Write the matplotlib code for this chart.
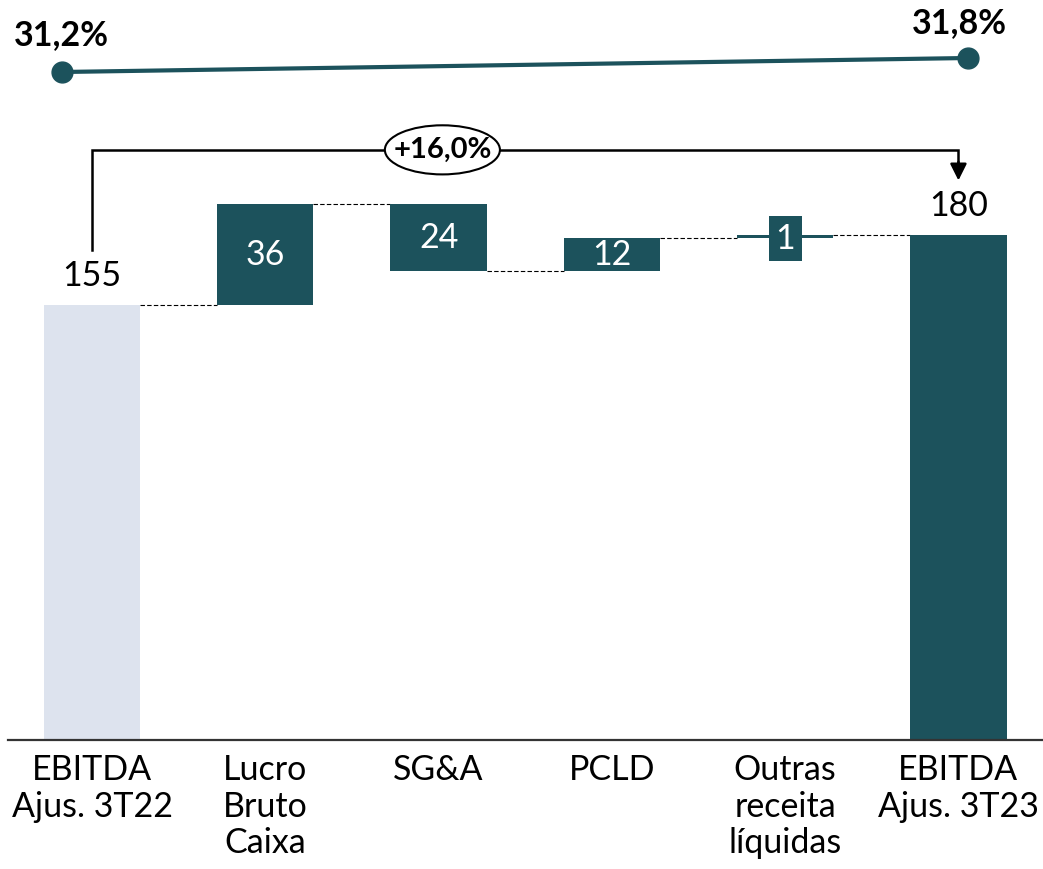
import matplotlib
matplotlib.use("Agg")
import matplotlib.pyplot as plt
from matplotlib.patches import Ellipse

plt.rcParams['font.family'] = ['Lato', 'DejaVu Sans']

categories = ["EBITDA\nAjus. 3T22", "Lucro\nBruto\nCaixa", "SG&A", "PCLD",
              "Outras\nreceita\nlíquidas", "EBITDA\nAjus. 3T23"]
start_value = 155
deltas = [36, -24, 12, 1]
end_value = 180
margins = [31.2, 31.8]
margin_labels = ["31,2%", "31,8%"]
growth_label = "+16,0%"

TEAL = "#1C525C"
LIGHT = "#DDE3EE"
FS = 24.5

fig = plt.figure(figsize=(10.43, 8.69), dpi=100)
ax = fig.add_axes([0, 0, 1, 1])
ax.set_xlim(-0.531, 5.488)
ax.set_ylim(-45.97, 263.7)
ax.axis("off")

w = 0.555
n = len(categories)
# start bar
ax.bar(0, start_value, width=w, color=LIGHT, zorder=2)
ax.text(0, start_value + 4.5, str(start_value), ha="center", va="bottom", fontsize=FS, color="black")

running = start_value
for i, d in enumerate(deltas, start=1):
    bottom = running if d >= 0 else running + d
    ax.bar(i, abs(d), bottom=bottom, width=w, color=TEAL, zorder=2)
    ax.plot([i - 1 + w / 2, i - w / 2], [running, running], color="black", lw=0.8,
            ls=(0, (4, 2)), zorder=1)
    mid = bottom + abs(d) / 2
    if abs(d) < 5:
        ax.text(i, mid - 0.8, str(abs(d)), ha="center", va="center", fontsize=FS, color="white",
                zorder=4, bbox=dict(boxstyle="square,pad=0.2", fc=TEAL, ec="none"))
    else:
        ax.text(i, mid, str(abs(d)), ha="center", va="center", fontsize=FS, color="white", zorder=3)
    running += d

# end bar
ax.plot([n - 2 + w / 2, n - 1 - w / 2], [running, running], color="black", lw=0.8,
        ls=(0, (4, 2)), zorder=1)
ax.bar(n - 1, end_value, width=w, color=TEAL, zorder=2)
ax.text(n - 1, end_value + 4.5, str(end_value), ha="center", va="bottom", fontsize=FS, color="black")

# category labels
for i, c in enumerate(categories):
    ax.text(i, -5.0, c, ha="center", va="top", fontsize=FS, color="black", linespacing=1.18)

# baseline
ax.plot([-0.485, 5.488], [0, 0], color="#333333", lw=1.6, zorder=3, clip_on=False)

# growth bracket
y_top = 210.3
ax.plot([0, 0, n - 1, n - 1], [174.6, y_top, y_top, 204], color="black", lw=1.8, zorder=3,
        solid_joinstyle="miter")
ax.annotate("", xy=(n - 1, 199.4), xytext=(n - 1, 206),
            arrowprops=dict(arrowstyle="-|>,head_length=1.0,head_width=0.5", color="black", lw=1.8,
                            shrinkA=0, shrinkB=0))
ell = Ellipse((2.022, y_top), 0.664, 17.5, fc="white", ec="black", lw=1.5, zorder=4)
ax.add_patch(ell)
ax.text(2.022, y_top, growth_label, ha="center", va="center", fontsize=FS - 3.5, fontweight="bold",
        zorder=5)

# margin line on its own scale
ax2 = fig.add_axes([0, 0, 1, 1], sharex=ax)
ax2.set_ylim(-2.96, 34.286)
ax2.axis("off")
ax2.patch.set_alpha(0)
mx = [-0.173, 5.055]
ax2.plot(mx, margins, color=TEAL, lw=3, marker="o", markersize=15, zorder=3)
ax2.text(mx[0] - 0.005, margins[0] + 0.9, margin_labels[0], ha="center", va="bottom", fontsize=FS,
         fontweight="bold")
ax2.text(mx[1] - 0.05, margins[1] + 0.8, margin_labels[1], ha="center", va="bottom", fontsize=FS,
         fontweight="bold")

fig.savefig("out.png", dpi=100)
